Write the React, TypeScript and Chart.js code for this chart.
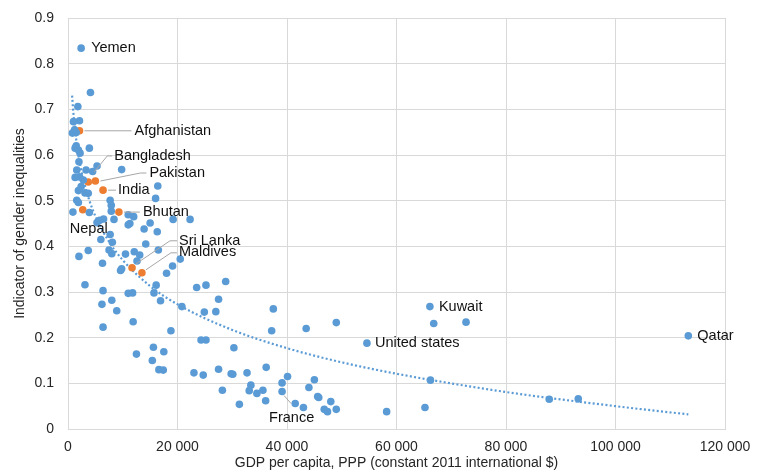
import React, { useEffect, useRef } from "react";
import { Chart, registerables } from "chart.js";

Chart.register(...registerables);

// ---- DATA ----
// First five entries are the labelled countries (in OTHER_LABELS order)
const OTHER_LABELS = ["Yemen", "France", "United states", "Kuwait", "Qatar"];
const OTHER_GDP = [
  2400, 39100, 54600, 66100, 113300,
  4100, 1800, 1000, 2100, 1200, 1500, 800, 1500, 1300, 1900, 2200, 3900, 2000, 1600, 3300, 4500,
  5300, 9800, 1300, 2100, 2800, 2400, 1900, 3100, 3700, 16400, 16000, 1600, 1900, 7700, 7900,
  7900, 900, 3900, 8400, 5300, 5800, 6500, 11000, 12000, 11300, 11000, 13900, 15000, 16300,
  19200, 22300, 6000, 7700, 8100, 14200, 16500, 3700, 2000, 7500, 8000, 10500, 12100, 13100,
  12600, 6300, 9800, 9600, 18000, 19100, 20500, 3100, 6400, 11000, 11800, 16100, 15700, 23500,
  25200, 28800, 6200, 8000, 16900, 20800, 27500, 8900, 24900, 27000, 11900, 6400, 18800, 24300,
  25200, 30300, 15600, 17500, 12500, 15400, 16600, 17400, 23000, 24700, 27500, 29800, 30100,
  28200, 31300, 32700, 36200, 33400, 33100, 34500, 35600, 36100, 37500, 37200, 43500, 49000,
  39100, 40100, 41500, 43000, 44000, 45000, 45600, 45800, 46800, 47400, 48000, 49000, 66800,
  72700, 66200, 58200, 65200, 87900, 93200,
];
const OTHER_GII = [
  0.834, 0.082, 0.188, 0.268, 0.204,
  0.737, 0.706, 0.673, 0.675, 0.655, 0.649, 0.648, 0.620, 0.615, 0.611, 0.604, 0.615, 0.585, 0.567, 0.567, 0.564,
  0.576, 0.568, 0.551, 0.552, 0.545, 0.531, 0.522, 0.517, 0.516, 0.532, 0.505, 0.501, 0.496, 0.501, 0.490,
  0.477, 0.475, 0.474, 0.459, 0.452, 0.457, 0.460, 0.469, 0.465, 0.450, 0.447, 0.438, 0.451, 0.432,
  0.459, 0.459, 0.415, 0.426, 0.409, 0.405, 0.392, 0.391, 0.378, 0.392, 0.384, 0.383, 0.388, 0.381,
  0.368, 0.363, 0.351, 0.347, 0.341, 0.357, 0.372, 0.316, 0.303, 0.297, 0.298, 0.315, 0.298, 0.310,
  0.315, 0.323, 0.273, 0.282, 0.281, 0.268, 0.284, 0.259, 0.256, 0.257, 0.235, 0.223, 0.215, 0.195,
  0.195, 0.178, 0.179, 0.169, 0.164, 0.150, 0.130, 0.129, 0.123, 0.118, 0.131, 0.121, 0.120,
  0.085, 0.054, 0.123, 0.135, 0.096, 0.084, 0.078, 0.085, 0.062, 0.263, 0.215, 0.220, 0.233,
  0.101, 0.115, 0.056, 0.047, 0.091, 0.108, 0.071, 0.069, 0.043, 0.038, 0.060, 0.043, 0.231,
  0.234, 0.107, 0.038, 0.047, 0.065, 0.066,
];

const SOUTH_ASIA_NAMES = ["Afghanistan", "Bangladesh", "Pakistan", "India", "Bhutan", "Nepal", "Sri Lanka", "Maldives"];
const SOUTH_ASIA_GDP = [2100, 3700, 5000, 6400, 9300, 2700, 11700, 13500];
const SOUTH_ASIA_GII = [0.653, 0.541, 0.543, 0.523, 0.475, 0.48, 0.353, 0.342];

// Trend line (logarithmic)
const TREND_GDP = [750, 1000, 1500, 2000, 3000, 4000, 5000, 7500, 10000, 15000, 20000, 30000, 40000, 50000, 60000, 80000, 100000, 113300];
const TREND_GII = [0.730, 0.690, 0.634, 0.593, 0.537, 0.497, 0.466, 0.410, 0.370, 0.313, 0.273, 0.217, 0.177, 0.146, 0.121, 0.081, 0.050, 0.032];

const X_TICKS = [0, 20000, 40000, 60000, 80000, 100000, 120000];
const Y_TICKS = [0, 0.1, 0.2, 0.3, 0.4, 0.5, 0.6, 0.7, 0.8, 0.9];

const X_TITLE = "GDP per capita, PPP (constant 2011 international $)";
const Y_TITLE = "Indicator of gender inequalities";

// ---- STYLE / LABEL LAYOUT ----
const BLUE = "#5B9BD5";
const ORANGE = "#ED7D31";
const GRID = "#D9D9D9";
const TEXT = "#262626";
const FONT = '"Liberation Sans", Arial, sans-serif';

type Layout = { dx: number; dy: number; leader?: number[][] };
const LABEL_LAYOUT: Record<string, Layout> = {
  Yemen: { dx: 10, dy: 0 },
  France: { dx: -13, dy: 26, leader: [[2, 4], [9, 12]] },
  "United states": { dx: 8, dy: 0 },
  Kuwait: { dx: 9, dy: 0 },
  Qatar: { dx: 9, dy: 0 },
  Afghanistan: { dx: 55, dy: 0, leader: [[5, 0], [52, 0]] },
  Bangladesh: { dx: 26, dy: -26, leader: [[24, -26], [19, -26], [6, -10]] },
  Pakistan: { dx: 54, dy: -8, leader: [[5, 0], [45, -8], [51, -8]] },
  India: { dx: 15, dy: 0, leader: [[5, 0], [13, 0]] },
  Bhutan: { dx: 24, dy: 0, leader: [[5, 0], [21, 0]] },
  Nepal: { dx: -13, dy: 19 },
  "Sri Lanka": { dx: 47, dy: -27, leader: [[4, -4], [38, -27], [45, -27]] },
  Maldives: { dx: 37, dy: -21, leader: [[4, -3], [29, -20], [35, -20]] },
};

const fmtThousands = (v: number) => String(v).replace(/\B(?=(\d{3})+(?!\d))/g, " ");

const labelPlugin = {
  id: "countryLabels",
  afterDatasetsDraw(chart: any) {
    const ctx = chart.ctx as CanvasRenderingContext2D;
    ctx.save();
    const drawSet = (dsIndex: number, names: string[]) => {
      const meta = chart.getDatasetMeta(dsIndex);
      names.forEach((name, i) => {
        const el = meta.data[i];
        const L = LABEL_LAYOUT[name];
        if (!el || !L) return;
        const px = el.x;
        const py = el.y;
        if (L.leader) {
          ctx.beginPath();
          L.leader.forEach(([lx, ly], k) => {
            if (k === 0) ctx.moveTo(px + lx, py + ly);
            else ctx.lineTo(px + lx, py + ly);
          });
          ctx.strokeStyle = "#A6A6A6";
          ctx.lineWidth = 1;
          ctx.stroke();
        }
        ctx.fillStyle = "#111111";
        ctx.font = `14.5px ${FONT}`;
        ctx.textAlign = "left";
        ctx.textBaseline = "middle";
        ctx.fillText(name, px + L.dx, py + L.dy);
      });
    };
    drawSet(0, OTHER_LABELS);
    drawSet(1, SOUTH_ASIA_NAMES);
    ctx.restore();
  },
};

export default function App() {
  const canvasRef = useRef<HTMLCanvasElement | null>(null);

  useEffect(() => {
    if (!canvasRef.current) return;
    Chart.defaults.font.family = FONT;
    const chart = new Chart(canvasRef.current, {
      type: "scatter",
      data: {
        datasets: [
          {
            label: "Other countries",
            data: OTHER_GDP.map((x, i) => ({ x, y: OTHER_GII[i] })),
            backgroundColor: BLUE,
            borderColor: BLUE,
            pointRadius: 3.8,
            pointBorderWidth: 0,
          },
          {
            label: "South Asia",
            data: SOUTH_ASIA_GDP.map((x, i) => ({ x, y: SOUTH_ASIA_GII[i] })),
            backgroundColor: ORANGE,
            borderColor: ORANGE,
            pointRadius: 3.8,
            pointBorderWidth: 0,
          },
          {
            type: "line",
            label: "Trend",
            data: TREND_GDP.map((x, i) => ({ x, y: TREND_GII[i] })),
            borderColor: BLUE,
            borderWidth: 2.2,
            borderDash: [2, 2.3],
            pointRadius: 0,
            fill: false,
            cubicInterpolationMode: "monotone",
          } as any,
        ],
      },
      options: {
        responsive: true,
        maintainAspectRatio: false,
        animation: false,
        events: [],
        layout: { padding: { top: 18, right: 42, left: 0, bottom: 0 } },
        plugins: {
          legend: { display: false },
          tooltip: { enabled: false },
        },
        scales: {
          x: {
            type: "linear",
            min: 0,
            max: 120000,
            afterBuildTicks: (scale: any) => {
              scale.ticks = X_TICKS.map((v) => ({ value: v }));
            },
            afterFit: (scale: any) => {
              scale.height = 43;
            },
            ticks: {
              color: TEXT,
              font: { size: 14, family: FONT },
              padding: 10,
              maxRotation: 0,
              callback: (v: any) => fmtThousands(Number(v)),
            },
            grid: { color: GRID, drawTicks: false, lineWidth: 1 },
            border: { color: GRID },
            title: {
              display: true,
              text: X_TITLE,
              color: TEXT,
              font: { size: 14, family: FONT },
              padding: { top: 0, bottom: 0 },
            },
          },
          y: {
            type: "linear",
            min: 0,
            max: 0.9,
            afterBuildTicks: (scale: any) => {
              scale.ticks = Y_TICKS.map((v) => ({ value: v }));
            },
            afterFit: (scale: any) => {
              scale.width = 68;
              scale.paddingTop = 0;
              scale.paddingBottom = 0;
            },
            ticks: {
              color: TEXT,
              font: { size: 14, family: FONT },
              padding: 14,
              callback: (v: any) => (Number(v) === 0 ? "0" : Number(v).toFixed(1)),
            },
            grid: { color: GRID, drawTicks: false, lineWidth: 1 },
            border: { color: GRID },
            title: {
              display: true,
              text: Y_TITLE,
              color: TEXT,
              font: { size: 14, family: FONT },
              padding: { top: 12, bottom: 0 },
            },
          },
        },
      },
      plugins: [labelPlugin],
    });
    return () => chart.destroy();
  }, []);

  return (
    <div style={{ position: "absolute", left: 0, top: 0, width: 767, height: 472 }}>
      <canvas ref={canvasRef} />
    </div>
  );
}
